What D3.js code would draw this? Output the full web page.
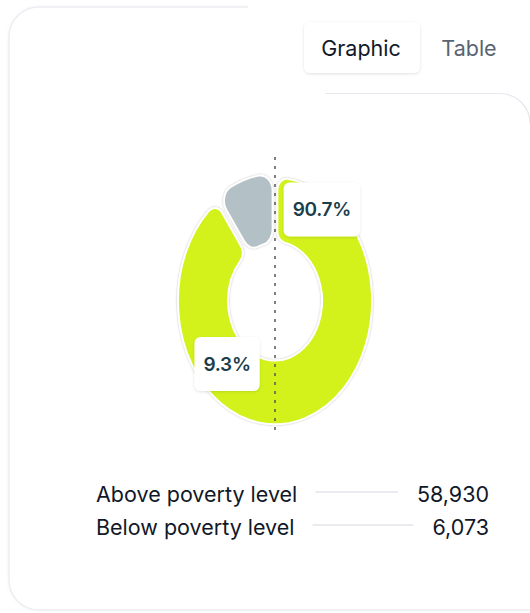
<!DOCTYPE html>
<html>
<head>
<meta charset="utf-8">
<script src="https://cdn.jsdelivr.net/npm/d3@7"></script>
<style>
  html, body { margin: 0; padding: 0; background: #fff; }
  svg { display: block; font-family: Inter, "Noto Sans", sans-serif; }
</style>
</head>
<body>
<svg id="chart" width="530" height="613"></svg>
<script>
// ---- data ----
const categories = ["Above poverty level", "Below poverty level"];
const values = [58930, 6073];
const percentLabels = ["90.7%", "9.3%"];
const tabLabels = ["Graphic", "Table"];

const colors = ["#d3f21b", "#b3c1c6"];

const svg = d3.select("#chart");
const defs = svg.append("defs");

const sh = defs.append("filter").attr("id", "shadow").attr("x", "-30%").attr("y", "-30%").attr("width", "160%").attr("height", "160%");
sh.append("feDropShadow").attr("dx", 0).attr("dy", 1).attr("stdDeviation", 1.6).attr("flood-color", "#000").attr("flood-opacity", 0.12);

const sh2 = defs.append("filter").attr("id", "edge").attr("x", "-10%").attr("y", "-10%").attr("width", "120%").attr("height", "120%");
sh2.append("feDropShadow").attr("dx", 0).attr("dy", 0).attr("stdDeviation", 0.8).attr("flood-color", "#000").attr("flood-opacity", 0.28);

const cardShadow = defs.append("filter").attr("id", "card").attr("x", "-10%").attr("y", "-10%").attr("width", "120%").attr("height", "120%");
cardShadow.append("feDropShadow").attr("dx", 0).attr("dy", 0).attr("stdDeviation", 1.5).attr("flood-color", "#000").attr("flood-opacity", 0.05);

// ---- card ----
svg.append("rect")
  .attr("x", 9).attr("y", 7).attr("width", 560).attr("height", 603).attr("rx", 30)
  .attr("fill", "#fff").attr("stroke", "#eceef2").attr("stroke-width", 1.5)
  .attr("filter", "url(#card)");
// white area hiding the top border on the right
svg.append("rect").attr("x", 248).attr("y", 0).attr("width", 290).attr("height", 18).attr("fill", "#fff");

// inner panel border
svg.append("path")
  .attr("d", "M325,93.5 L500,93.5 A30,30 0 0 1 530,123.5")
  .attr("fill", "none").attr("stroke", "#e6e8ee").attr("stroke-width", 1.2);

// ---- tabs ----
svg.append("rect").attr("x", 304).attr("y", 22).attr("width", 116).attr("height", 51).attr("rx", 6)
  .attr("fill", "#fff").attr("filter", "url(#shadow)");
svg.append("text").attr("x", 361).attr("y", 56).attr("text-anchor", "middle")
  .attr("font-size", 21.5).attr("fill", "#111827").text(tabLabels[0]);
svg.append("text").attr("x", 469).attr("y", 56).attr("text-anchor", "middle")
  .attr("font-size", 21.5).attr("fill", "#5b6472").text(tabLabels[1]);

// ---- donut ----
const cx = 275, cy = 301, sy = 1.27;
const pie = d3.pie().sort(null).padAngle(0.045);
const arcs = pie(values);
const outerR = [97, 100];
const innerR = [47, 46];

const g = svg.append("g").attr("transform", `translate(${cx},${cy}) scale(1,${sy})`);
g.selectAll("path.slice")
  .data(arcs)
  .join("path")
  .attr("class", "slice")
  .attr("d", (d, i) => d3.arc().innerRadius(innerR[i]).outerRadius(outerR[i]).cornerRadius(i ? 12 : 9)(d))
  .attr("fill", (d, i) => colors[i])
  .attr("stroke", "#fff")
  .attr("stroke-width", 1.8)
  .attr("vector-effect", "non-scaling-stroke")
  .attr("filter", "url(#edge)");

// dotted center line
svg.append("line")
  .attr("x1", cx).attr("x2", cx).attr("y1", 157).attr("y2", 434)
  .attr("stroke", "#555").attr("stroke-width", 1.5).attr("stroke-dasharray", "3,6");

// ---- percentage labels ----
const labelAngles = [33 * Math.PI / 180, 224 * Math.PI / 180];
const labelRadii = [86, 69];
const labelG = svg.selectAll("g.lab")
  .data(percentLabels)
  .join("g")
  .attr("class", "lab")
  .attr("transform", (d, i) => {
    const x = cx + labelRadii[i] * Math.sin(labelAngles[i]);
    const y = cy - labelRadii[i] * Math.cos(labelAngles[i]) * sy;
    return `translate(${x},${y})`;
  });
labelG.each(function(d) {
  const gg = d3.select(this);
  const t = gg.append("text")
    .attr("text-anchor", "middle").attr("dy", "0.36em")
    .attr("font-size", 19).attr("font-weight", 600).attr("fill", "#1b3e4b")
    .attr("letter-spacing", -0.3)
    .text(d);
  const w = t.node().getComputedTextLength();
  gg.insert("rect", "text")
    .attr("x", -w / 2 - 9).attr("y", -27).attr("width", w + 18).attr("height", 54).attr("rx", 6)
    .attr("fill", "#fff").attr("filter", "url(#shadow)");
});

// ---- legend ----
const legendY = [502, 535];
const labelX = 96, valueX = 489;
const fmt = d3.format(",");
categories.forEach((c, i) => {
  const lt = svg.append("text").attr("x", labelX).attr("y", legendY[i])
    .attr("font-size", 21.5).attr("fill", "#111827").text(c);
  const vt = svg.append("text").attr("x", valueX).attr("y", legendY[i]).attr("text-anchor", "end")
    .attr("font-size", 21.5).attr("fill", "#111827").text(fmt(values[i]));
  const lw = lt.node().getComputedTextLength();
  const vw = vt.node().getComputedTextLength();
  svg.append("line")
    .attr("x1", labelX + lw + 18).attr("x2", valueX - vw - 19)
    .attr("y1", legendY[i] - 10).attr("y2", legendY[i] - 10)
    .attr("stroke", "#e3e5ea").attr("stroke-width", 1.3);
});
</script>
</body>
</html>
